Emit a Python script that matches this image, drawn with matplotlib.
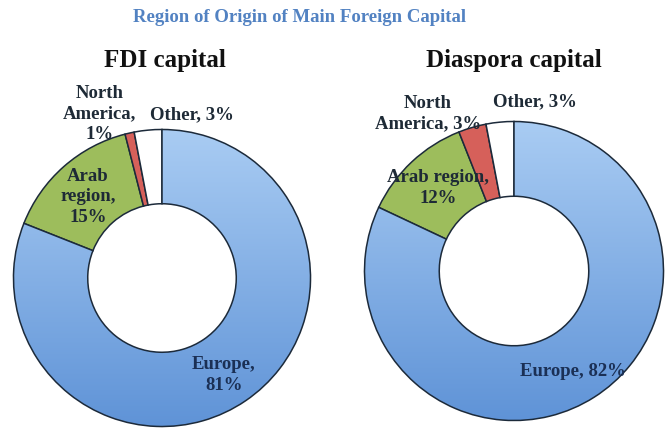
import numpy as np
import matplotlib.pyplot as plt
from matplotlib.colors import LinearSegmentedColormap

# data
regions = ["Europe", "Arab region", "North America", "Other"]
fdi_share = [81, 15, 1, 3]
diaspora_share = [82, 12, 3, 3]

title = "Region of Origin of Main Foreign Capital"
chart_titles = ["FDI capital", "Diaspora capital"]

W, H = 670, 431
colors = ["#8ab3e6", "#9dbd5c", "#d6605a", "#ffffff"]
edge = "#1c2a3a"
txt = "#1e2a36"
serif = ["Liberation Serif", "DejaVu Serif"]

fig = plt.figure(figsize=(W / 100, H / 100), dpi=100)
fig.patch.set_facecolor("white")


def px(x, y):
    return x / W, 1 - y / H


def donut(cx, cy, r, values):
    ax = fig.add_axes([(cx - r) / W, 1 - (cy + r) / H, 2 * r / W, 2 * r / H])
    wedges, _ = ax.pie(values, colors=colors, startangle=90, counterclock=False,
                       radius=1, wedgeprops=dict(width=0.5, edgecolor=edge, linewidth=1.1))
    # soft vertical gradient on the Europe slice
    grad = np.linspace(0, 1, 256).reshape(-1, 1)
    cmap = LinearSegmentedColormap.from_list("eu", ["#5f93d7", "#a9ccf3"])
    im = ax.imshow(grad, extent=[-1, 1, -1, 1], origin="lower", cmap=cmap,
                   aspect="auto", zorder=wedges[0].get_zorder())
    im.set_clip_path(wedges[0])
    wedges[0].set_facecolor("none")
    wedges[0].set_zorder(wedges[0].get_zorder() + 0.1)
    ax.set_xlim(-1.01, 1.01)
    ax.set_ylim(-1.01, 1.01)
    ax.set_aspect("equal")
    ax.axis("off")
    return ax


donut(162, 279, 150, fdi_share)
donut(514, 272, 151, diaspora_share)

fig.text(*px(300, 18), title, ha="center", va="center", color="#5282c2",
         fontsize=13.5, fontweight="bold", family=serif)
fig.text(*px(165, 61), chart_titles[0], ha="center", va="center", color="#111111",
         fontsize=18, fontweight="bold", family=serif)
fig.text(*px(514, 61), chart_titles[1], ha="center", va="center", color="#111111",
         fontsize=18, fontweight="bold", family=serif)

lab = dict(ha="center", va="center", color=txt, fontsize=13.5, fontweight="bold",
           family=serif, linespacing=1.25)
eu = dict(lab, color="#1b3055")

# FDI labels
fig.text(*px(100, 114), f"North\nAmerica,\n{fdi_share[2]}%", **lab)
fig.text(*px(192, 115), f"Other, {fdi_share[3]}%", **lab)
fig.text(*px(88, 197), f"Arab\nregion,\n{fdi_share[1]}%", **lab)
fig.text(*px(224, 375), f"Europe,\n{fdi_share[0]}%", **eu)

# Diaspora labels
fig.text(*px(428, 114), f"North\nAmerica, {diaspora_share[2]}%", **lab)
fig.text(*px(535, 102), f"Other, {diaspora_share[3]}%", **lab)
fig.text(*px(438, 188), f"Arab region,\n{diaspora_share[1]}%", **lab)
fig.text(*px(573, 372), f"Europe, {diaspora_share[0]}%", **eu)

fig.savefig("out.png", dpi=100, facecolor="white")
